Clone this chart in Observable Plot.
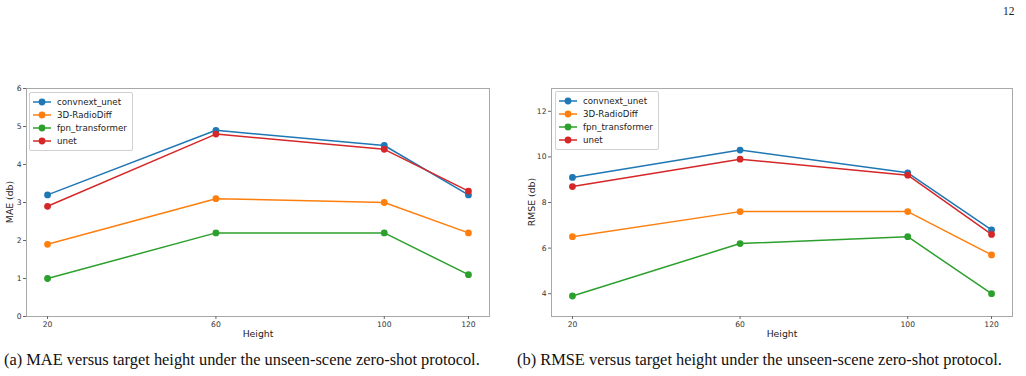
<!DOCTYPE html>
<html>
<head>
<meta charset="utf-8">
<script src="https://cdn.jsdelivr.net/npm/d3@7"></script>
<script src="https://cdn.jsdelivr.net/npm/@observablehq/plot@0.6"></script>
<style>
  html, body { margin: 0; padding: 0; background: #fff; }
  #page { position: relative; width: 1026px; height: 376px; overflow: hidden; font-family: "DejaVu Sans", sans-serif; }
  .panel { position: absolute; top: 0; }
  .ylab { position: absolute; font-size: 9.3px; color: #222; transform: translate(-50%, -50%) rotate(-90deg); white-space: nowrap; }
  .xlab { position: absolute; font-size: 9.3px; color: #222; transform: translate(-50%, -50%); white-space: nowrap; }
  .caption { position: absolute; font-family: "Liberation Serif", "Times New Roman", serif; font-size: 16.4px; color: #111; white-space: nowrap; transform: translateY(-50%); }
  .legend { position: absolute; border: 1px solid #d0d0d0; border-radius: 2px; background: rgba(255,255,255,0.85); padding: 2px 5px 2px 3px; font-size: 8.7px; color: #222; }
  .legend .row { display: flex; align-items: center; height: 13.2px; }
  .legend svg { margin-right: 6px; }
  .pagenum { position: absolute; font-family: "Liberation Serif", serif; font-size: 11.5px; color: #222; left: 1003px; top: 5px; }
</style>
</head>
<body>
<div id="page"></div>
<script>
// ---- data ----
const heights = [20, 60, 100, 120];
const models = ["convnext_unet", "3D-RadioDiff", "fpn_transformer", "unet"];
const colors = ["#1f77b4", "#ff7f0e", "#2ca02c", "#d62728"];

const maeConvnext = [3.2, 4.9, 4.5, 3.2];
const maeRadioDiff = [1.9, 3.1, 3.0, 2.2];
const maeFpn = [1.0, 2.2, 2.2, 1.1];
const maeUnet = [2.9, 4.8, 4.4, 3.3];

const rmseConvnext = [9.1, 10.3, 9.3, 6.8];
const rmseRadioDiff = [6.5, 7.6, 7.6, 5.7];
const rmseFpn = [3.9, 6.2, 6.5, 4.0];
const rmseUnet = [8.7, 9.9, 9.2, 6.6];

const maeTicks = [0, 1, 2, 3, 4, 5, 6];
const rmseTicks = [4, 6, 8, 10, 12];

const captionA = "(a) MAE versus target height under the unseen-scene zero-shot protocol.";
const captionB = "(b) RMSE versus target height under the unseen-scene zero-shot protocol.";

function toRows(seriesList) {
  const rows = [];
  seriesList.forEach((vals, i) => vals.forEach((v, j) => rows.push({model: models[i], height: heights[j], value: v})));
  return rows;
}
const maeRows = toRows([maeConvnext, maeRadioDiff, maeFpn, maeUnet]);
const rmseRows = toRows([rmseConvnext, rmseRadioDiff, rmseFpn, rmseUnet]);

const page = document.getElementById("page");

function makePanel(rows, opts) {
  const chart = Plot.plot({
    width: opts.width,
    height: 376,
    marginLeft: opts.marginLeft,
    marginRight: opts.marginRight,
    marginTop: 88,
    marginBottom: 60,
    style: {fontFamily: "DejaVu Sans, sans-serif", fontSize: "7.6px", color: "#333", background: "transparent"},
    x: {domain: [15, 125], ticks: heights, label: null},
    y: {domain: opts.ydomain, ticks: opts.yticks, label: null},
    color: {domain: models, range: colors},
    marks: [
      Plot.frame({stroke: "#a8a8a8", strokeWidth: 1}),
      Plot.axisX({ticks: heights, tickSize: 3, stroke: "#666", tickPadding: 2, tickFormat: d3.format("d"), label: null}),
      Plot.axisY({ticks: opts.yticks, tickSize: 3, stroke: "#666", tickPadding: 2, tickFormat: d3.format("d"), label: null}),
      Plot.line(rows, {x: "height", y: "value", z: "model", stroke: "model", strokeWidth: 1.5}),
      Plot.dot(rows, {x: "height", y: "value", fill: "model", r: 3.4})
    ]
  });
  chart.classList.add("panel");
  chart.style.left = opts.left + "px";
  page.appendChild(chart);
}

makePanel(maeRows, {left: 0, width: 505, marginLeft: 26, marginRight: 16, ydomain: [0, 6], yticks: maeTicks});
makePanel(rmseRows, {left: 505, width: 521, marginLeft: 46, marginRight: 14, ydomain: [3, 13], yticks: rmseTicks});

function addDiv(cls, text, x, y) {
  const d = document.createElement("div");
  d.className = cls;
  d.textContent = text;
  d.style.left = x + "px";
  d.style.top = y + "px";
  page.appendChild(d);
  return d;
}
addDiv("ylab", "MAE (db)", 9, 202);
addDiv("ylab", "RMSE (db)", 531, 202);
addDiv("xlab", "Height", 258, 332.5);
addDiv("xlab", "Height", 782, 332.5);
addDiv("caption", captionA, 4, 360);
addDiv("caption", captionB, 517, 360);
const pn = document.createElement("div");
pn.className = "pagenum"; pn.textContent = "12"; page.appendChild(pn);

function addLegend(x, y) {
  const lg = document.createElement("div");
  lg.className = "legend";
  lg.style.left = x + "px";
  lg.style.top = y + "px";
  models.forEach((m, i) => {
    const row = document.createElement("div");
    row.className = "row";
    row.innerHTML = `<svg width="18" height="8"><line x1="0" y1="4" x2="18" y2="4" stroke="${colors[i]}" stroke-width="1.5"/><circle cx="9" cy="4" r="3.4" fill="${colors[i]}"/></svg><span>${m}</span>`;
    lg.appendChild(row);
  });
  page.appendChild(lg);
}
addLegend(29, 92);
addLegend(555, 91);
</script>
</body>
</html>
